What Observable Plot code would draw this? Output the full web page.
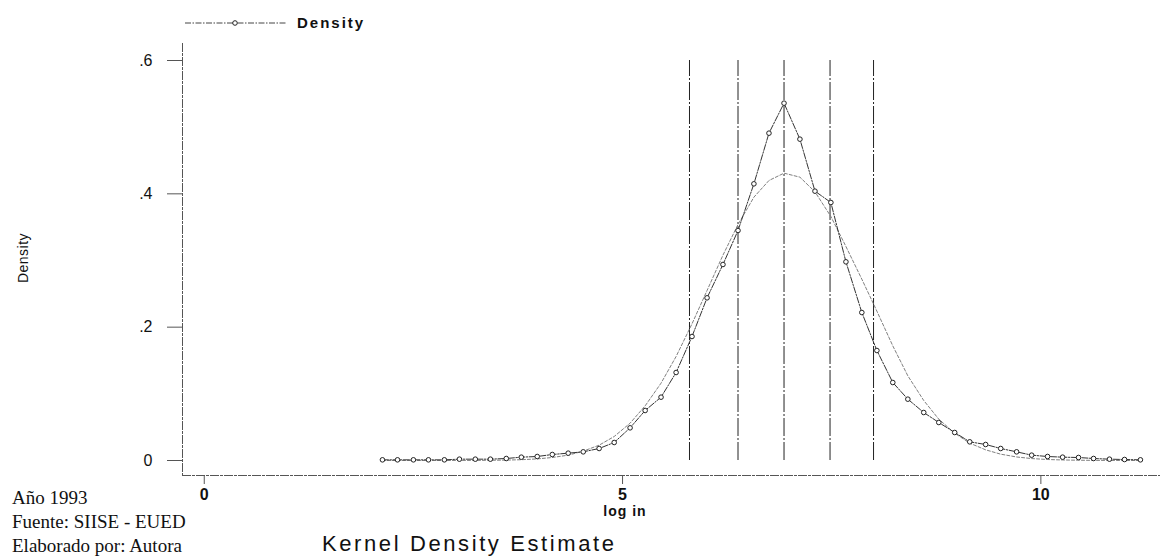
<!DOCTYPE html>
<html>
<head>
<meta charset="utf-8">
<script src="https://cdn.jsdelivr.net/npm/d3@7"></script>
<script src="https://cdn.jsdelivr.net/npm/@observablehq/plot@0.6"></script>
<style>
  html, body { margin: 0; padding: 0; background: #fff; }
  #chart svg { display: block; }
</style>
</head>
<body>
<div id="chart"></div>
<script>
// Evaluation grid (log ingreso), 50 points
const xGrid = [2.13, 2.31, 2.50, 2.68, 2.87, 3.05, 3.24, 3.42, 3.61, 3.79,
  3.98, 4.16, 4.35, 4.53, 4.72, 4.90, 5.09, 5.27, 5.46, 5.64,
  5.83, 6.01, 6.20, 6.38, 6.57, 6.75, 6.93, 7.12, 7.30, 7.49,
  7.67, 7.86, 8.04, 8.23, 8.41, 8.60, 8.78, 8.97, 9.15, 9.34,
  9.52, 9.71, 9.89, 10.08, 10.26, 10.45, 10.63, 10.82, 11.00, 11.19];

// Kernel density estimate (line with hollow markers)
const kernelDensity = [0.001, 0.001, 0.001, 0.001, 0.001, 0.002, 0.002, 0.002, 0.003, 0.005,
  0.006, 0.009, 0.011, 0.013, 0.018, 0.027, 0.049, 0.075, 0.095, 0.132,
  0.186, 0.244, 0.294, 0.345, 0.415, 0.491, 0.536, 0.482, 0.404, 0.387,
  0.298, 0.222, 0.165, 0.117, 0.092, 0.072, 0.057, 0.042, 0.028, 0.024,
  0.018, 0.013, 0.008, 0.006, 0.005, 0.0045, 0.003, 0.002, 0.0015, 0.001];

// Normal density overlay (smooth light curve)
const normalDensity = [0, 0, 0, 0, 0, 0.0001, 0.0001, 0.0003, 0.0006, 0.0012,
  0.0024, 0.0045, 0.008, 0.014, 0.023, 0.036, 0.056, 0.082, 0.116, 0.156,
  0.205, 0.255, 0.308, 0.354, 0.395, 0.420, 0.431, 0.425, 0.403, 0.366,
  0.321, 0.272, 0.224, 0.172, 0.127, 0.090, 0.062, 0.041, 0.026, 0.016,
  0.0095, 0.0053, 0.0029, 0.0015, 0.0008, 0.0004, 0.0002, 0.0001, 0, 0];

// Vertical reference lines
const cutoffs = [5.80, 6.38, 6.93, 7.48, 8.00];

// Ticks
const xTicks = [0, 5, 10];
const yTicks = [0, 0.2, 0.4, 0.6];
const yTickLabels = ["0", ".2", ".4", ".6"];
const xDomain = [-0.26, 11.43];
const yDomain = [-0.0225, 0.6255];

const rows = xGrid.map((x, i) => ({x, k: kernelDensity[i], n: normalDensity[i]}));

const chart = Plot.plot({
  width: 1165,
  height: 556,
  marginLeft: 182,
  marginRight: 5,
  marginTop: 43,
  marginBottom: 81,
  style: {fontFamily: "'Liberation Sans', Arial, sans-serif", background: "#fff", color: "#111", overflow: "visible"},
  x: {domain: xDomain},
  y: {domain: yDomain},
  marks: [
    Plot.ruleX([xDomain[0]], {stroke: "#555", strokeWidth: 1, strokeDasharray: "9,1,3,1"}),
    Plot.ruleY([yDomain[0]], {stroke: "#555", strokeWidth: 1, strokeDasharray: "9,1,3,1"}),
    Plot.axisY(yTicks, {tickSize: 15, tickPadding: 15, fontSize: 16, label: null,
      tickFormat: d => yTickLabels[yTicks.indexOf(d)], stroke: "#555"}),
    Plot.axisX(xTicks, {tickSize: 9, tickPadding: 4, fontSize: 16, fontWeight: "bold", label: null, stroke: "#555"}),
    Plot.ruleX(cutoffs, {y1: 0, y2: 0.6, stroke: "#222", strokeWidth: 1, strokeDasharray: "18,2,2,2"}),
    Plot.line(rows, {x: "x", y: "n", stroke: "#808080", strokeWidth: 1, strokeDasharray: "3,2"}),
    Plot.line(rows, {x: "x", y: "k", stroke: "#333", strokeWidth: 1, strokeDasharray: "6,1.5,1.5,1.5"}),
    Plot.dot(rows, {x: "x", y: "k", r: 2.3, stroke: "#222", fill: "white", strokeWidth: 1})
  ]
});

document.getElementById("chart").appendChild(chart);

const svg = d3.select(chart);
const sans = "'Liberation Sans', Arial, sans-serif";
const serif = "'Liberation Serif', 'Times New Roman', serif";

// Legend
const lg = svg.append("g");
lg.append("line").attr("x1", 185).attr("x2", 287).attr("y1", 23).attr("y2", 23)
  .attr("stroke", "#444").attr("stroke-width", 1).attr("stroke-dasharray", "6,1.5,1.5,1.5");
lg.append("circle").attr("cx", 235).attr("cy", 23).attr("r", 2.3)
  .attr("fill", "white").attr("stroke", "#222");
lg.append("text").attr("x", 297).attr("y", 28).attr("text-anchor", "start").text("Density")
  .attr("font-family", sans).attr("font-size", 15).attr("font-weight", "bold")
  .attr("letter-spacing", 2).attr("fill", "#111");

// Y axis title
svg.append("text").attr("transform", "translate(28,258) rotate(-90)")
  .attr("text-anchor", "middle").text("Density")
  .attr("font-family", sans).attr("font-size", 14).attr("letter-spacing", 0.5).attr("fill", "#111");

// X axis title
svg.append("text").attr("x", 625).attr("y", 516).attr("text-anchor", "middle").text("log in")
  .attr("font-family", sans).attr("font-size", 14).attr("font-weight", "bold").attr("letter-spacing", 1).attr("fill", "#111");

// Chart title
svg.append("text").attr("x", 322).attr("y", 551).attr("text-anchor", "start").text("Kernel Density Estimate")
  .attr("font-family", sans).attr("font-size", 22).attr("letter-spacing", 2.6).attr("fill", "#111");

// Notes
const notes = ["Año 1993", "Fuente: SIISE - EUED", "Elaborado por: Autora"];
notes.forEach((t, i) => {
  svg.append("text").attr("x", 12).attr("y", 504 + i * 24).attr("text-anchor", "start").text(t)
    .attr("font-family", serif).attr("font-size", 19).attr("fill", "#111");
});
</script>
</body>
</html>
